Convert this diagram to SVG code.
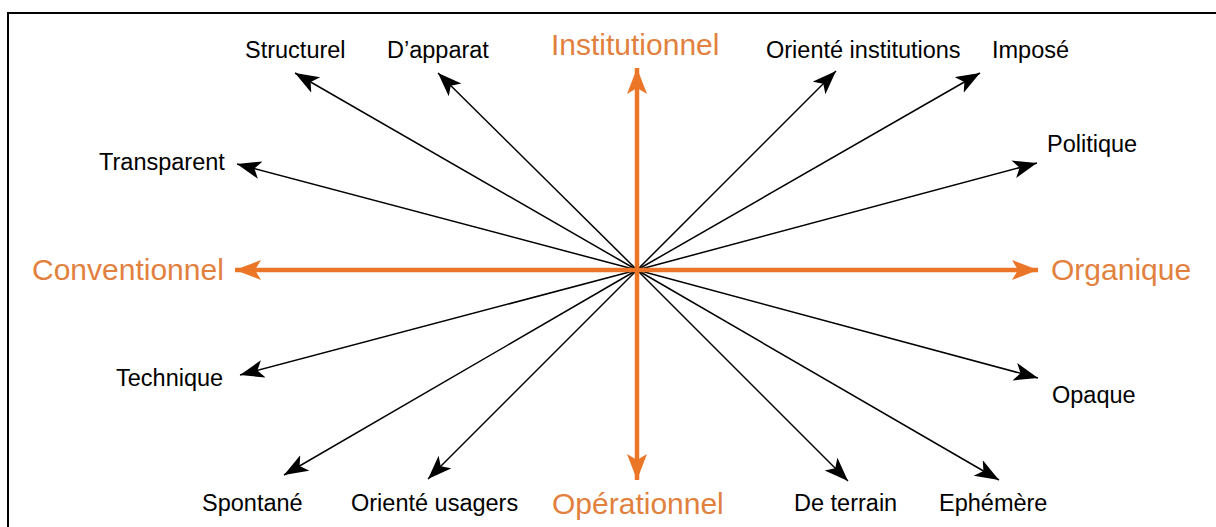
<svg xmlns="http://www.w3.org/2000/svg" width="1216" height="527" viewBox="0 0 1216 527">
<style>
.bg{fill:#ffffff}
.frame{stroke:#000;stroke-width:2;fill:none}
.lbl{font-family:"Liberation Sans",Arial,Helvetica,sans-serif;font-size:23.5px;fill:#000}
.axl{font-family:"Liberation Sans",Arial,Helvetica,sans-serif;font-size:30px;fill:#E2803E}
.spoke{stroke:#000;stroke-width:1.5;fill:none;marker-end:url(#ah)}
.axis{stroke:#EC7628;stroke-width:4.5;fill:none;marker-end:url(#oh)}
</style>
<defs>
<marker id="ah" markerUnits="userSpaceOnUse" markerWidth="26" markerHeight="20" refX="24" refY="9" orient="auto">
<path d="M0,0 L24,9 L0,18 L6,9 z" fill="#000"/>
</marker>
<marker id="oh" markerUnits="userSpaceOnUse" markerWidth="28" markerHeight="22" refX="26" refY="10" orient="auto">
<path d="M0,0 L26,10 L0,20 L6,10 z" fill="#EC7628"/>
</marker>
</defs>
<rect class="bg" x="0" y="0" width="1216" height="527"/>
<path class="frame" d="M8,527 L8,13 L1216,13"/>
<g id="connectors">
<line class="spoke" x1="637" y1="270" x2="295" y2="73"/>
<line class="spoke" x1="637" y1="270" x2="438" y2="73"/>
<line class="spoke" x1="637" y1="270" x2="836" y2="71"/>
<line class="spoke" x1="637" y1="270" x2="980" y2="73"/>
<line class="spoke" x1="637" y1="270" x2="1037" y2="163"/>
<line class="spoke" x1="637" y1="270" x2="237" y2="164"/>
<line class="spoke" x1="637" y1="270" x2="240" y2="375"/>
<line class="spoke" x1="637" y1="270" x2="1038" y2="378"/>
<line class="spoke" x1="637" y1="270" x2="284" y2="475"/>
<line class="spoke" x1="637" y1="270" x2="428" y2="479"/>
<line class="spoke" x1="637" y1="270" x2="848" y2="481"/>
<line class="spoke" x1="637" y1="270" x2="999" y2="480"/>
<line class="axis" x1="637" y1="270" x2="235" y2="270"/>
<line class="axis" x1="637" y1="270" x2="1038" y2="270"/>
<line class="axis" x1="637" y1="270" x2="637" y2="68"/>
<line class="axis" x1="637" y1="270" x2="637" y2="480"/>
</g>
<g id="institutionnel"><text class="axl" x="551" y="55">Institutionnel</text></g>
<g id="operationnel"><text class="axl" x="552" y="514">Opérationnel</text></g>
<g id="conventionnel"><text class="axl" x="32" y="280">Conventionnel</text></g>
<g id="organique"><text class="axl" x="1051" y="280">Organique</text></g>
<g id="structurel"><text class="lbl" x="245" y="58">Structurel</text></g>
<g id="dapparat"><text class="lbl" x="387" y="58">D’apparat</text></g>
<g id="oriente-institutions"><text class="lbl" x="766" y="58">Orienté institutions</text></g>
<g id="impose"><text class="lbl" x="992" y="58">Imposé</text></g>
<g id="politique"><text class="lbl" x="1047" y="152">Politique</text></g>
<g id="transparent"><text class="lbl" x="99" y="170">Transparent</text></g>
<g id="technique"><text class="lbl" x="116" y="386">Technique</text></g>
<g id="opaque"><text class="lbl" x="1052" y="403">Opaque</text></g>
<g id="spontane"><text class="lbl" x="202" y="511">Spontané</text></g>
<g id="oriente-usagers"><text class="lbl" x="351" y="511">Orienté usagers</text></g>
<g id="de-terrain"><text class="lbl" x="794" y="511">De terrain</text></g>
<g id="ephemere"><text class="lbl" x="939" y="511">Ephémère</text></g>
</svg>
